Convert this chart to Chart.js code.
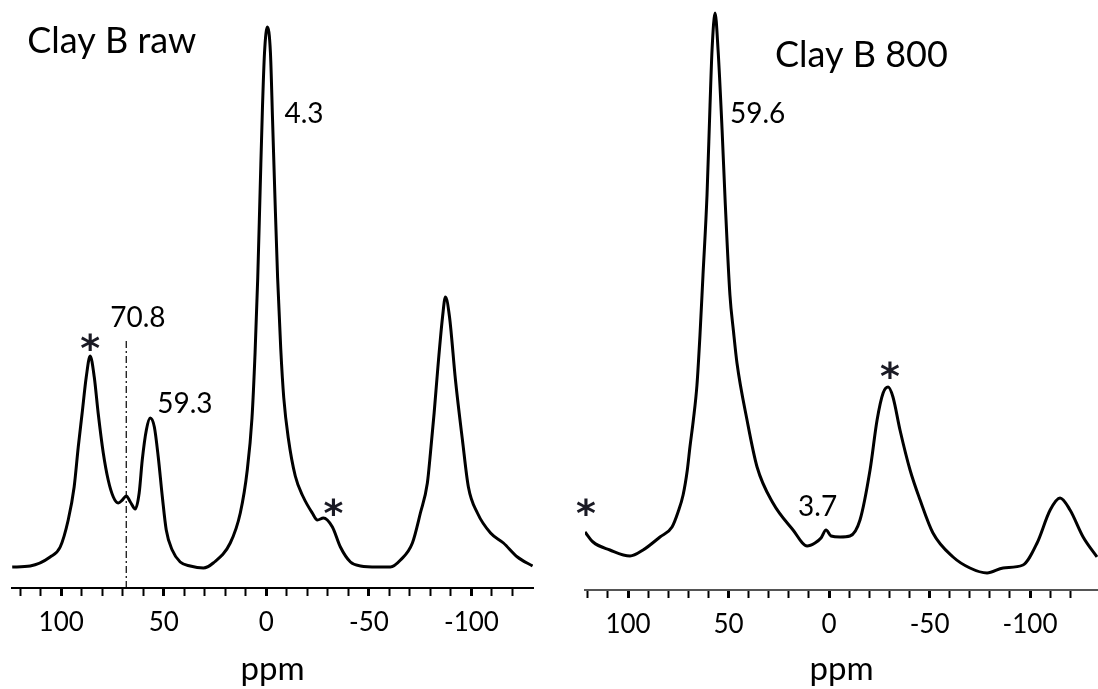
<!DOCTYPE html>
<html lang="en">
<head>
  <meta charset="UTF-8">
  <title>Clay B 27Al NMR</title>
  <script src="https://cdn.jsdelivr.net/npm/chart.js"></script>
  <style>
    body {
      margin: 0;
      background: #fff;
      width: 1098px;
      height: 689px;
      position: relative;
      overflow: hidden;
    }
    canvas {
      position: absolute;
      top: 0;
    }
    #rawCanvas { left: 0; }
    #hotCanvas { left: 550px; }
  </style>
</head>
<body>
<canvas id="rawCanvas" width="550" height="689"></canvas>
<canvas id="hotCanvas" width="548" height="689"></canvas>

<script>
  // Spectrum: chemical shift (ppm) and intensity (a.u.)
  const rawPpm = [123.9, 115.1, 105.4, 100.5, 96.6, 93.7, 91.7, 89.8, 87.8, 85.9, 83.9, 82.0, 79.5, 77.1,
    74.6, 72.2, 70.2, 68.3, 66.3, 63.9, 62.0, 60.5, 58.5, 56.6, 54.6, 52.7, 50.7, 48.8, 45.9, 42.0,
    37.1, 30.7, 25.9, 17.6, 12.7, 9.3, 7.0, 5.5, 4.2, 3.0, 1.9, 0.9, -0.5, -2.0, -3.0, -4.2, -5.5,
    -7.0, -8.5, -10.7, -14.1, -18.0, -22.4, -24.9, -27.8, -32.2, -36.1, -41.0, -45.9, -54.1, -60.5, -65.4,
    -71.2, -75.1, -78.5, -80.0, -81.8, -83.6, -85.9, -87.3, -89.3, -92.2, -95.6, -98.5, -102.9, -109.3,
    -115.6, -122.4, -129.8];
  const rawInt = [21, 22, 31, 41, 68, 101, 141, 175, 211, 232, 211, 175, 135, 108,
    91, 85, 88, 92, 86, 79, 95, 128, 158, 170, 161, 131, 91, 58, 38, 26,
    22, 20, 25, 45, 75, 118, 170, 235, 310, 400, 480, 535, 561, 535, 470, 390, 310,
    240, 190, 150, 112, 91, 75, 68, 70, 61, 41, 26, 22, 21, 21, 28,
    45, 75, 105, 135, 175, 220, 271, 291, 271, 208, 148, 101, 75, 55,
    45, 31, 22];

  const hotPpm = [121.4, 117.4, 109.0, 99.0, 92.5, 84.1, 78.1, 75.1, 72.6, 70.5, 69.2, 67.5, 65.7, 64.2,
    62.7, 60.7, 59.2, 58.2, 56.7, 55.2, 53.2, 51.7, 49.3, 47.5, 45.8, 40.8, 35.8, 27.9, 17.9, 10.9, 7.0, 4.0,
    1.5, -1.0, -5.5, -10.4, -15.4, -20.4, -23.9, -26.9, -29.4, -31.8, -35.3, -40.3, -45.3, -51.7,
    -61.7, -70.1, -78.6, -86.6, -96.5, -103.5, -110.0, -114.9, -119.9, -126.4, -133.3];
  const hotInt = [58, 48, 40, 34, 40, 53, 63, 78, 95, 120, 143, 170, 205, 255,
    315, 395, 485, 540, 577, 540, 460, 390, 295, 258, 227, 170, 123, 87, 60, 44, 47, 52,
    60, 54, 53, 54, 70, 120, 170, 197, 203, 193, 160, 120, 90, 57,
    33, 22, 17, 22, 25, 47, 80, 92, 80, 53, 33];

  // axis ticks every 10 ppm, labelled every 50 ppm
  const tickValues = [120, 110, 100, 90, 80, 70, 60, 50, 40, 30, 20, 10, 0,
    -10, -20, -30, -40, -50, -60, -70, -80, -90, -100, -110, -120];

  // dash-dot marker at the 70.8 shoulder (ppm, top intensity)
  const markerPpm = [68.3, 68.3];
  const markerInt = [0, 248];

  // peak labels (anchor: left end of text baseline, in ppm / intensity)
  const rawLabels = ['Clay B raw', '4.3', '70.8', '59.3'];
  const rawLabelPpm = [116.6, -8.8, 76.1, 53.2];
  const rawLabelInt = [535, 465, 261, 175];
  const rawStarPpm = [85.9, -32.7];
  const rawStarInt = [246, 81];

  const hotLabels = ['Clay B 800', '59.6', '3.7'];
  const hotLabelPpm = [26.9, 49.3, 15.4];
  const hotLabelInt = [523, 467, 74];
  const hotStarPpm = [-30.3, 120.9];
  const hotStarInt = [220, 83];

  const FONT = 'Lato, "Open Sans", sans-serif';

  function toPoints(xs, ys) {
    return xs.map((x, i) => ({ x: x, y: ys[i] }));
  }

  // draws the panel title, peak labels and the asterisks
  function labelPlugin(texts, tPpm, tInt, sPpm, sInt) {
    return {
      id: 'peakLabels',
      afterDatasetsDraw(chart) {
        const ctx = chart.ctx;
        const xs = chart.scales.x, ys = chart.scales.y;
        ctx.save();
        ctx.fillStyle = '#000';
        ctx.textAlign = 'left';
        ctx.textBaseline = 'alphabetic';
        texts.forEach((t, i) => {
          ctx.font = (i === 0 ? '36px ' : '28px ') + FONT;
          ctx.fillText(t, xs.getPixelForValue(tPpm[i]), ys.getPixelForValue(tInt[i]));
        });
        ctx.font = 'bold 38px "DejaVu Sans"';
        ctx.textAlign = 'center';
        const m = ctx.measureText('*');
        const off = (m.actualBoundingBoxAscent - m.actualBoundingBoxDescent) / 2;
        ctx.fillStyle = '#1a1a24';
        sPpm.forEach((p, i) => {
          ctx.fillText('*', xs.getPixelForValue(p), ys.getPixelForValue(sInt[i]) + off);
        });
        ctx.restore();
      }
    };
  }

  function makeChart(canvasId, datasets, xMin, xMax, yMax, pad, scaleHeight, plugin, axisColor) {
    return new Chart(document.getElementById(canvasId), {
      type: 'scatter',
      data: { datasets: datasets },
      options: {
        responsive: false,
        animation: false,
        devicePixelRatio: 1,
        layout: { padding: pad },
        plugins: { legend: { display: false }, tooltip: { enabled: false } },
        elements: { point: { radius: 0 } },
        scales: {
          x: {
            type: 'linear',
            reverse: true,
            min: xMin,
            max: xMax,
            afterBuildTicks: (scale) => {
              scale.ticks = tickValues.map(v => ({ value: v }));
            },
            afterFit: (scale) => { scale.height = scaleHeight; },
            ticks: {
              autoSkip: false,
              maxRotation: 0,
              padding: 11,
              color: '#000',
              font: { family: FONT, size: 26 },
              callback: (v) => (v % 50 === 0 ? String(v) : '')
            },
            grid: {
              drawOnChartArea: false,
              drawTicks: true,
              tickLength: 8,
              tickColor: '#000',
              tickWidth: (c) => (c.tick && c.tick.value % 50 === 0 ? 3 : 2)
            },
            border: { display: true, color: axisColor, width: 2 },
            title: {
              display: true,
              text: 'ppm',
              color: '#000',
              font: { family: FONT, size: 33 },
              padding: { top: 0, bottom: 0 }
            }
          },
          y: {
            display: false,
            min: 0,
            max: yMax
          }
        }
      },
      plugins: [plugin]
    });
  }

  makeChart('rawCanvas', [
    {
      data: toPoints(rawPpm, rawInt),
      showLine: true,
      borderColor: '#000',
      borderWidth: 3,
      cubicInterpolationMode: 'monotone'
    },
    {
      data: toPoints(markerPpm, markerInt),
      showLine: true,
      borderColor: '#000',
      borderWidth: 1.2,
      borderDash: [7, 3, 2, 3]
    }
  ], -130, 124, 588, { left: 12, right: 17, top: 0, bottom: 0 }, 101,
    labelPlugin(rawLabels, rawLabelPpm, rawLabelInt, rawStarPpm, rawStarInt), '#000');

  makeChart('hotCanvas', [
    {
      data: toPoints(hotPpm, hotInt),
      showLine: true,
      borderColor: '#000',
      borderWidth: 3,
      cubicInterpolationMode: 'monotone'
    }
  ], -133.8, 121.4, 590, { left: 35, right: 0, top: 0, bottom: 0 }, 99,
    labelPlugin(hotLabels, hotLabelPpm, hotLabelInt, hotStarPpm, hotStarInt), '#555');
</script>
</body>
</html>
